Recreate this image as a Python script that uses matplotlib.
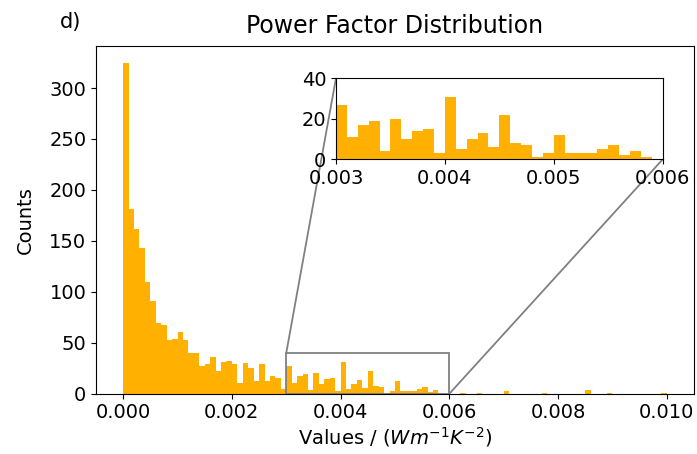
import numpy as np
import matplotlib
matplotlib.use("Agg")
import matplotlib.pyplot as plt
from mpl_toolkits.axes_grid1.inset_locator import mark_inset

# Histogram counts per bin of width 0.0001, from 0 to 0.01
counts_0_003 = [325, 181, 162, 143, 110, 91, 69, 67, 53, 54,
                61, 53, 40, 40, 27, 29, 36, 22, 31, 32,
                29, 11, 30, 25, 12, 29, 12, 17, 15, 5]
counts_003_006 = [27, 11, 17, 19, 4, 20, 10, 14, 15, 3,
                  31, 5, 10, 13, 6, 22, 8, 7, 1, 3,
                  12, 3, 3, 3, 5, 7, 2, 4, 1, 0]
counts_006_010 = [0, 0, 1, 0, 0, 1, 0, 0, 0, 0,
                  3, 0, 0, 0, 0, 0, 0, 1, 0, 0,
                  0, 0, 0, 0, 0, 4, 0, 0, 0, 1,
                  0, 0, 0, 0, 0, 0, 0, 0, 0, 1]
counts = np.array(counts_0_003 + counts_003_006 + counts_006_010)
edges = np.linspace(0.0, 0.01, 101)
x_ticks = [0.000, 0.002, 0.004, 0.006, 0.008, 0.010]
y_ticks = [0, 50, 100, 150, 200, 250, 300]
inset_xticks = [0.003, 0.004, 0.005, 0.006]
inset_yticks = [0, 20, 40]
color = "#FFB000"

fig = plt.figure(figsize=(6.97, 4.54), dpi=100)
ax = fig.add_axes([0.1377, 0.1328, 0.858, 0.7659])
ax.hist(edges[:-1], bins=edges, weights=counts, color=color)
ax.set_xticks(x_ticks)
ax.set_xticklabels([f"{v:.3f}" for v in x_ticks])
ax.set_yticks(y_ticks)
ax.tick_params(labelsize=14)
ax.set_xlabel(r"Values / ($Wm^{-1}K^{-2}$)", fontsize=14, labelpad=2)
ax.set_ylabel("Counts", fontsize=14, labelpad=10)
ax.set_title("Power Factor Distribution", fontsize=17, pad=9.5)
fig.text(0.086, 0.952, "d)", fontsize=15, ha="left", va="center")

axins = fig.add_axes([0.482, 0.649, 0.4688, 0.1784])
axins.hist(edges[:-1], bins=edges, weights=counts, color=color)
axins.set_xlim(0.003, 0.006)
axins.set_ylim(0, 40)
axins.set_xticks(inset_xticks)
axins.set_xticklabels([f"{v:.3f}" for v in inset_xticks])
axins.set_yticks(inset_yticks)
axins.tick_params(labelsize=14)
mark_inset(ax, axins, loc1=2, loc2=4, fc="none", ec="0.5", lw=1.3)

fig.savefig("out.png", dpi=100)
